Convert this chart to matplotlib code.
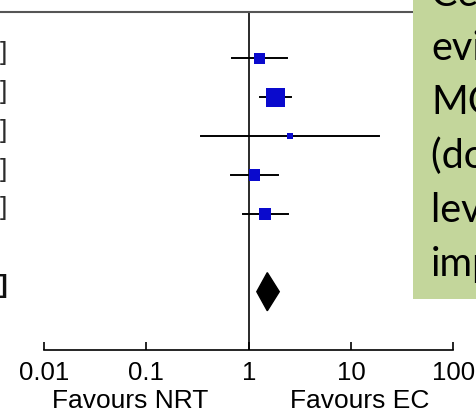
import numpy as np
import matplotlib
matplotlib.use("Agg")
import matplotlib.pyplot as plt
from matplotlib.patches import Polygon, Rectangle
from matplotlib.transforms import blended_transform_factory

# risk ratios, EC vs NRT
rr = [1.28, 1.84, 2.52, 1.15, 1.45]
ci_lo = [0.69, 1.30, 0.34, 0.67, 0.87]
ci_hi = [2.35, 2.61, 18.7, 1.95, 2.40]
weight = [15.4, 46.0, 4.7, 15.5, 18.4]  # %

pooled = 1.52
pooled_lo = 1.20
pooled_hi = 1.99

ticks = [0.01, 0.1, 1, 10, 100]
tick_labels = ["0.01", "0.1", "1", "10", "100"]

note_lines = ["Certainty of", "evidence:", "MODERATE", "(downgraded one",
              "level due to", "imprecision)"]

W, H = 476, 412
fig = plt.figure(figsize=(W / 100, H / 100), dpi=100)
ax = fig.add_axes([0, 1 - 349.5 / H, 1, (349.5 - 12) / H])
ax.set_xscale("log")
ax.set_xlim(10 ** (-248.7 / 102.3), 10 ** ((W - 248.7) / 102.3))
ax.set_ylim(7.486, -1.19)

rows = np.arange(len(rr))
pooled_row = len(rr) + 1

# confidence intervals + weighted squares
for y, lo, hi in zip(rows, ci_lo, ci_hi):
    ax.plot([lo, hi], [y, y], color="black", lw=1.4, zorder=2)
sides = 2.02 * np.sqrt(weight)
ax.scatter(rr, rows, s=sides ** 2, marker="s", color="#0a0acd", linewidths=0, zorder=3)

# pooled diamond
dh = 0.49
ax.add_patch(Polygon([[pooled_lo, pooled_row], [pooled, pooled_row - dh],
                      [pooled_hi, pooled_row], [pooled, pooled_row + dh]],
                     closed=True, facecolor="black", edgecolor="black", zorder=3))

ax.axvline(1, color="#2a2a2a", lw=1.4, zorder=1)

ax.set_xticks(ticks)
ax.set_xticklabels(tick_labels, family="Liberation Sans", fontsize=18.5)
ax.xaxis.set_minor_locator(matplotlib.ticker.NullLocator())
ax.tick_params(axis="x", direction="in", length=5.8, width=1.2, pad=8, color="black")
ax.set_yticks([])
for s in ["left", "right"]:
    ax.spines[s].set_visible(False)
ax.spines["bottom"].set_bounds(0.01, 100)
ax.spines["bottom"].set_linewidth(1.2)
ax.spines["top"].set_color("#555555")
ax.spines["top"].set_linewidth(1.5)
ax.patch.set_alpha(0)

# ends of the cut-off CI column
tr = blended_transform_factory(fig.transFigure, ax.transData)
for y in rows:
    ax.text(7 / W, y - 0.14, "]", transform=tr, ha="right", va="center",
            fontsize=19, family="Liberation Sans", color="#2b2b2b", clip_on=False)
ax.text(7 / W, pooled_row - 0.14, "]", transform=tr, ha="right", va="center",
        fontsize=19, family="Liberation Sans", fontweight="bold", color="#111111",
        clip_on=False)

fig.text(130 / W, 1 - 401 / H, "Favours NRT", ha="center", va="center",
         fontsize=19, family="Liberation Sans")
fig.text(360 / W, 1 - 401 / H, "Favours EC", ha="center", va="center",
         fontsize=19, family="Liberation Sans")

# callout box on the right
fig.patches.append(Rectangle((413 / W, 1 - 299 / H), (W - 413) / W, 299 / H,
                             transform=fig.transFigure, facecolor="#c3d69b",
                             edgecolor="none", zorder=5))
for i, line in enumerate(note_lines):
    fig.text(431 / W, 1 - (6 + 54 * i) / H, line, ha="left", va="baseline",
             fontsize=28.5, family="Lato", color="black", zorder=6)

fig.savefig("out.png", dpi=100)
